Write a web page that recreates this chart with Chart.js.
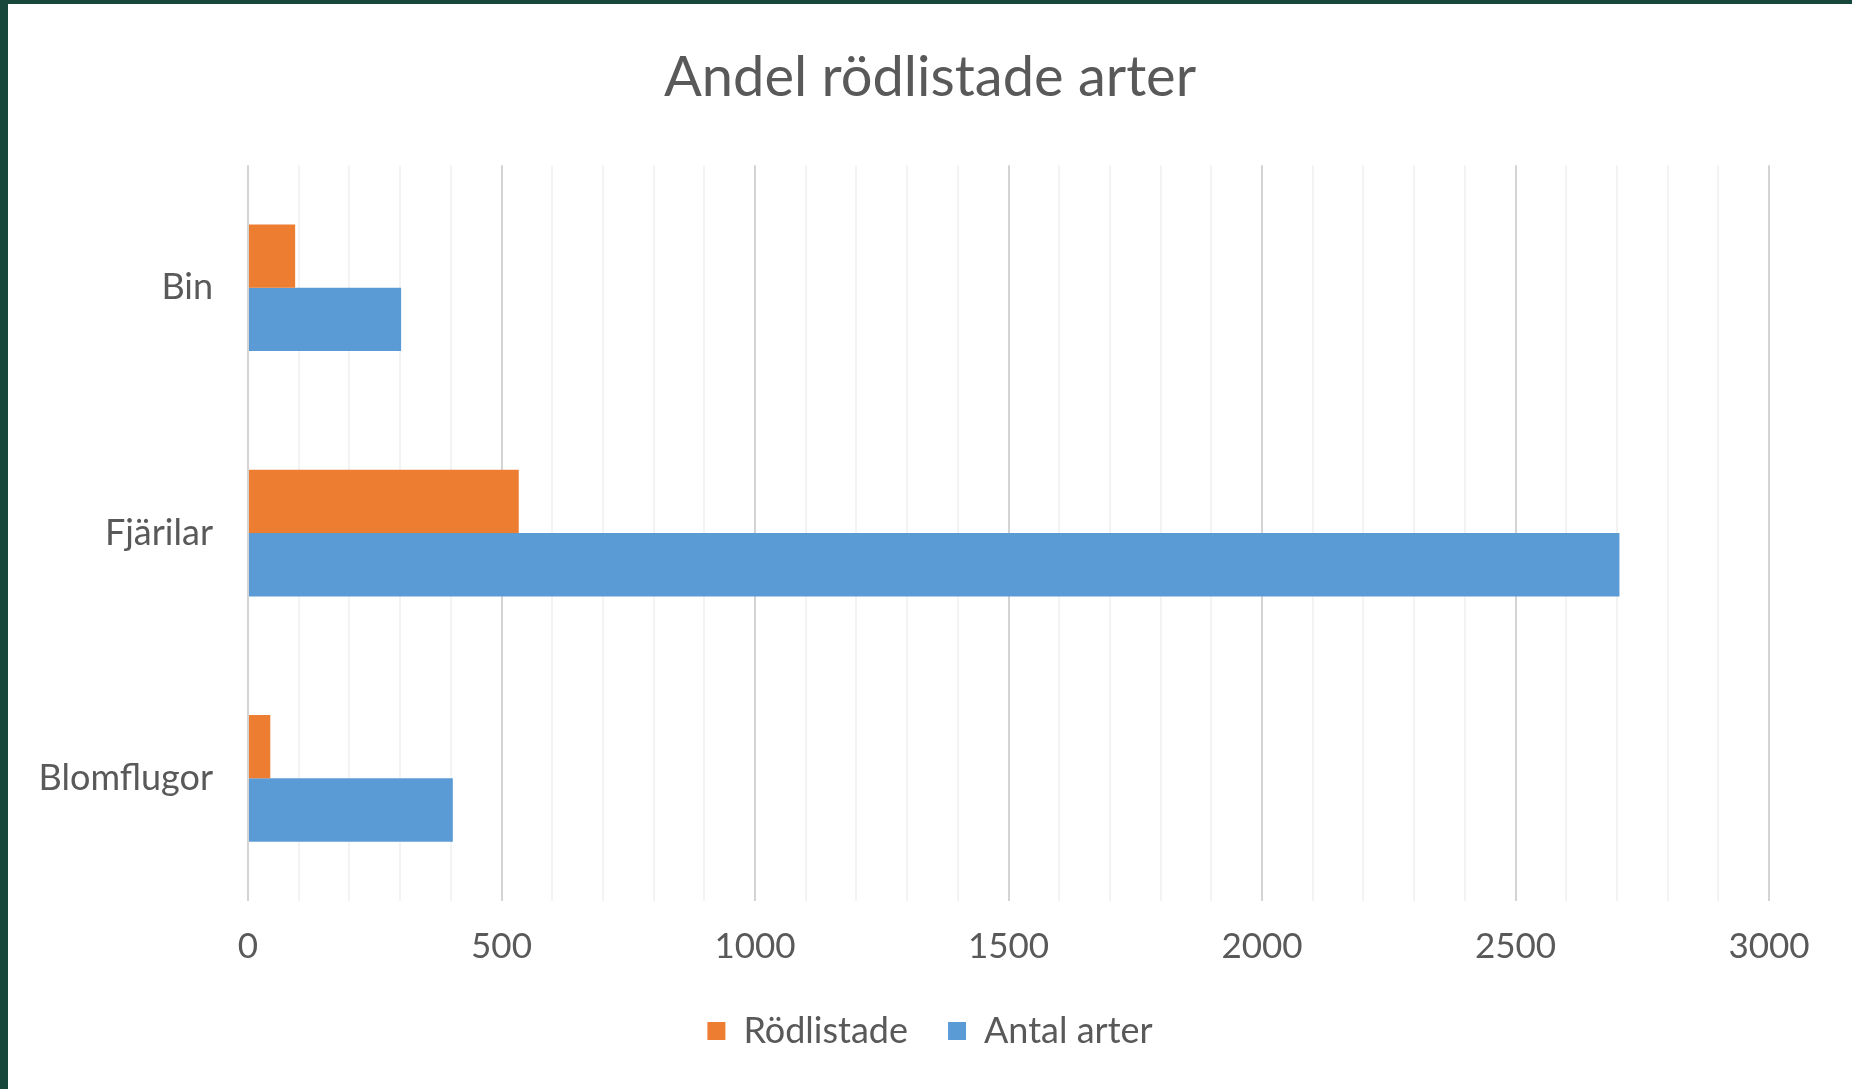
<!DOCTYPE html>
<html>
<head>
<meta charset="utf-8">
<script src="https://cdn.jsdelivr.net/npm/chart.js@4/dist/chart.umd.min.js"></script>
<style>
  html, body { margin: 0; padding: 0; background: #17473a; width: 1852px; height: 1089px; overflow: hidden; }
  #wrap { position: absolute; left: 8px; top: 4px; width: 1844px; height: 1085px; background: #ffffff; }
  canvas { display: block; }
</style>
</head>
<body>
<div id="wrap"><canvas id="c" width="1844" height="1085"></canvas></div>
<script>
const categories = ["Bin", "Fjärilar", "Blomflugor"];
const rodlistade = [93, 534, 44];
const antalArter = [302, 2705, 404];
const seriesNames = ["Rödlistade", "Antal arter"];
const titleText = "Andel rödlistade arter";

const FONT = "Lato, 'Open Sans', sans-serif";
const TXT = "#595959";

new Chart(document.getElementById('c'), {
  type: 'bar',
  data: {
    labels: categories,
    datasets: [
      { label: seriesNames[0], data: rodlistade, backgroundColor: '#ED7D31', borderWidth: 0, barPercentage: 1.0, categoryPercentage: 0.516 },
      { label: seriesNames[1], data: antalArter, backgroundColor: '#5B9BD5', borderWidth: 0, barPercentage: 1.0, categoryPercentage: 0.516 }
    ]
  },
  options: {
    indexAxis: 'y',
    responsive: false,
    animation: false,
    devicePixelRatio: 1,
    layout: { padding: { left: 0, right: 0, top: 0, bottom: 30 } },
    plugins: {
      title: {
        display: true, text: titleText, color: TXT,
        font: { family: FONT, size: 56, weight: 'normal' },
        padding: { top: 40, bottom: 54 }
      },
      legend: {
        display: true, position: 'bottom',
        labels: { color: TXT, font: { family: FONT, size: 36 }, boxWidth: 18, boxHeight: 18, padding: 40 }
      },
      tooltip: { enabled: false }
    },
    scales: {
      x: {
        min: 0, max: 3000,
        ticks: {
          stepSize: 100, autoSkip: false, maxRotation: 0, color: TXT, padding: 25,
          font: { family: FONT, size: 35 },
          callback: (v) => (v % 500 === 0 ? String(v) : '')
        },
        grid: {
          drawTicks: false,
          color: (ctx) => (ctx.tick && ctx.tick.value % 500 === 0 ? '#d4d4d4' : '#f3f3f3'),
          lineWidth: 2
        },
        border: { display: false },
        afterFit: (s) => { s.height = 72; }
      },
      y: {
        ticks: { color: TXT, padding: 35, font: { family: FONT, size: 36 } },
        grid: { display: false, drawTicks: false },
        border: { display: false },
        afterFit: (s) => { s.width = 240; }
      },
      yRight: {
        type: 'category', axis: 'y', position: 'right', display: true,
        ticks: { display: false },
        grid: { display: false, drawTicks: false },
        border: { display: false },
        afterFit: (s) => { s.width = 83; }
      }
    }
  }
});
</script>
</body>
</html>
